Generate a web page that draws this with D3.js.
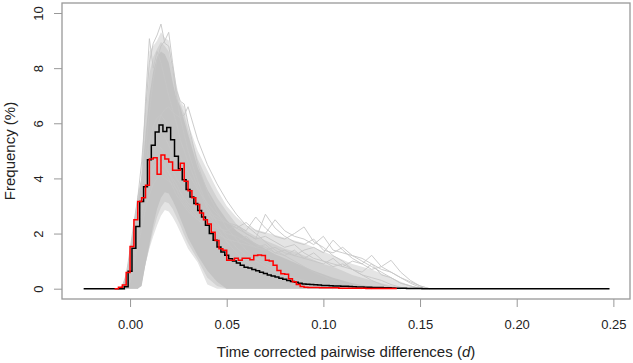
<!DOCTYPE html>
<html lang="en">
<head>
<meta charset="UTF-8" />
<title>Pairwise differences</title>
<style>
  body { margin: 0; background: #fff; }
  svg text { font-family: "Liberation Sans", Arial, sans-serif; fill: #222; }
</style>
</head>
<body>
<svg id="chart" width="633" height="363"></svg>
<script src="https://cdn.jsdelivr.net/npm/d3@7"></script>
<script>
// axis ticks
const xTicks = [0, 0.05, 0.1, 0.15, 0.2, 0.25];
const yTicks = [0, 2, 4, 6, 8, 10];
const xMin = -0.024, xMax = 0.248;

// grid used by the simulated (grey) curves
const gx = [-0.006, -0.004, -0.002, 0, 0.002, 0.004, 0.006, 0.008, 0.010, 0.012, 0.014, 0.016, 0.018, 0.020, 0.022, 0.024, 0.026, 0.028, 0.030,
  0.035, 0.040, 0.045, 0.050, 0.055, 0.060, 0.065, 0.070, 0.075, 0.080, 0.085, 0.090, 0.095, 0.100, 0.105, 0.110, 0.115, 0.120, 0.125, 0.130, 0.135, 0.140, 0.145, 0.150, 0.155];

// envelopes of the simulations: all of them, most of them, the dense bulk
const outerHi = [0, 0.1, 0.5, 1.4, 2.4, 3.3, 4.0, 6.8, 8.6, 8.8, 9.0, 9.3, 9.1, 9.0, 8.2, 7.4, 6.8, 6.6, 6.0,
  5.0, 4.3, 3.6, 3.0, 2.6, 2.3, 2.15, 2.05, 1.95, 1.85, 1.75, 1.65, 1.5, 1.35, 1.2, 1.05, 0.9, 0.8, 0.7, 0.55, 0.4, 0.25, 0.12, 0.04, 0];
const outerLo = [0, 0, 0, 0, 0, 0, 0.35, 0.9, 1.45, 1.9, 2.3, 2.65, 2.85, 2.8, 2.6, 2.35, 2.05, 1.75, 1.45,
  0.95, 0.15, 0, 0, 0, 0, 0, 0, 0, 0, 0, 0, 0, 0, 0, 0, 0, 0, 0, 0, 0, 0, 0, 0, 0];
const midHi = [0, 0.08, 0.45, 1.3, 2.3, 3.2, 3.95, 6.2, 7.8, 8.4, 8.7, 8.95, 8.8, 8.6, 7.9, 7.2, 6.7, 6.35, 5.8,
  4.7, 3.95, 3.3, 2.8, 2.35, 2.1, 1.9, 1.75, 1.6, 1.45, 1.35, 1.2, 1.05, 0.9, 0.8, 0.65, 0.5, 0.4, 0.3, 0.2, 0.12, 0.05, 0.02, 0, 0];
const midLo = [0, 0, 0, 0, 0, 0, 0.2, 0.9, 1.5, 2.1, 2.6, 2.95, 3.15, 3.1, 2.9, 2.6, 2.3, 1.95, 1.65,
  1.05, 0.4, 0.1, 0, 0, 0, 0, 0, 0, 0, 0, 0, 0, 0, 0, 0, 0, 0, 0, 0, 0, 0, 0, 0, 0];
const coreHi = [0, 0.05, 0.4, 1.2, 2.2, 3.1, 3.9, 5.6, 7.0, 7.9, 8.4, 8.6, 8.5, 8.2, 7.5, 6.9, 6.6, 6.1, 5.6,
  4.4, 3.6, 3.0, 2.5, 2.1, 1.85, 1.65, 1.45, 1.25, 1.1, 0.95, 0.8, 0.65, 0.52, 0.4, 0.3, 0.2, 0.13, 0.08, 0.04, 0.02, 0, 0, 0, 0];
const coreLo = [0, 0, 0, 0, 0, 0, 0.1, 0.9, 1.6, 2.3, 2.9, 3.3, 3.5, 3.45, 3.2, 2.9, 2.55, 2.2, 1.85,
  1.2, 0.65, 0.25, 0, 0, 0, 0, 0, 0, 0, 0, 0, 0, 0, 0, 0, 0, 0, 0, 0, 0, 0, 0, 0, 0];

// individual simulated curves that stick out of the bulk
const sim1 = [0, 0, 0.2, 1.0, 2.2, 3.3, 4.6, 6.4, 8.2, 8.9, 9.2, 9.6, 8.9, 8.8, 8.0, 7.0, 6.2, 5.6, 5.0,
  3.9, 3.0, 2.4, 1.9, 1.5, 1.2, 1.0, 0.8, 0.6, 0.5, 0.4, 0.3, 0.2, 0.15, 0.1, 0.05, 0.02, 0];
const sim2 = [0, 0.1, 0.5, 1.4, 2.4, 3.3, 4.0, 6.8, 9.07, 8.0, 8.6, 8.2, 7.6, 7.0, 6.5, 6.0, 5.4, 5.0, 4.6,
  3.7, 2.9, 2.2, 1.7, 1.3, 1.0, 0.8, 0.6, 0.45, 0.3, 0.2, 0.15, 0.1, 0.05, 0];
const sim3 = [0, 0, 0.1, 0.6, 1.4, 2.3, 3.1, 3.9, 4.6, 5.0, 5.2, 5.1, 4.9, 4.6, 4.3, 4.0, 3.8, 3.6, 3.4,
  3.1, 2.8, 2.6, 2.4, 2.3, 2.1, 2.6, 2.2, 1.9, 1.8, 2.0, 2.24, 1.7, 1.5, 1.2, 1.0, 0.7, 0.5, 0.3, 0.15, 0.05, 0];
const sim4 = [0, 0, 0, 0.3, 1.0, 1.9, 2.8, 3.6, 4.2, 4.6, 4.8, 4.7, 4.5, 4.2, 3.9, 3.6, 3.3, 3.1, 2.9,
  2.5, 2.2, 2.0, 1.8, 1.7, 1.6, 1.5, 1.4, 1.5, 1.3, 1.2, 1.4, 1.5, 1.3, 1.76, 1.4, 1.1, 0.9, 1.21, 0.8, 1.03, 0.6, 0.3, 0.1, 0];
const sim5 = [0, 0, 0, 0.2, 0.8, 1.5, 2.2, 2.9, 3.4, 3.8, 4.0, 4.1, 4.0, 3.9, 3.8, 3.6, 3.5, 3.3, 3.1,
  2.9, 2.7, 2.5, 2.4, 2.2, 2.4, 2.1, 2.0, 2.5, 2.1, 1.9, 1.8, 1.6, 1.9, 1.4, 1.3, 1.2, 1.1, 0.9, 0.7, 0.6, 0.4, 0.2, 0.05, 0];
const sim6 = [0, 0, 0.3, 1.1, 2.0, 3.0, 3.9, 5.0, 6.4, 7.6, 8.3, 8.8, 9.0, 9.3, 8.2, 7.2, 6.8, 6.7, 6.0,
  4.5, 3.5, 2.8, 2.2, 1.8, 1.4, 1.1, 0.9, 0.7, 0.5, 0.35, 0.25, 0.15, 0.1, 0.05, 0];
const sim7 = [0, 0, 0.1, 0.6, 1.4, 2.2, 3.0, 3.8, 4.6, 5.3, 5.9, 6.3, 6.5, 6.6, 6.4, 6.3, 6.2, 6.3, 6.6,
  5.4, 4.5, 3.8, 3.2, 2.7, 2.3, 2.0, 1.7, 1.4, 1.2, 1.0, 0.8, 0.6, 0.45, 0.3, 0.2, 0.1, 0.05, 0];
const sim8 = [0, 0, 0, 0.4, 1.1, 1.9, 2.7, 3.4, 4.0, 4.4, 4.6, 4.6, 4.4, 4.2, 4.0, 3.8, 3.5, 3.2, 3.0,
  2.6, 2.3, 2.0, 1.8, 1.7, 1.9, 1.6, 1.5, 1.3, 1.4, 1.2, 1.1, 1.3, 1.0, 0.9, 0.8, 1.0, 0.9, 0.7, 0.8, 0.6, 0.4, 0.25, 0.1, 0];
const sim9 = [0, 0, 0.2, 0.9, 1.8, 2.7, 3.6, 4.5, 5.3, 5.9, 6.2, 6.3, 6.1, 5.8, 5.5, 5.1, 4.8, 4.5, 4.2,
  3.6, 3.1, 2.7, 2.4, 2.2, 2.0, 1.8, 1.9, 1.7, 1.5, 1.6, 1.3, 1.1, 1.0, 0.8, 0.9, 0.7, 0.5, 0.4, 0.3, 0.15, 0.05, 0];
const sim10 = [0, 0, 0, 0.2, 0.9, 1.8, 2.6, 3.3, 3.9, 4.3, 4.5, 4.4, 4.2, 4.0, 3.7, 3.4, 3.2, 3.0, 2.8,
  2.5, 2.3, 2.2, 2.1, 2.3, 2.0, 1.8, 2.7, 2.2, 1.9, 1.7, 1.6, 1.8, 1.4, 1.3, 1.5, 1.2, 1.0, 0.8, 0.6, 0.4, 0.2, 0.1, 0];
const sim11 = [0, 0, 0.1, 0.7, 1.5, 2.4, 3.2, 4.1, 4.9, 5.5, 5.8, 5.7, 5.5, 5.2, 4.9, 4.5, 4.2, 3.9, 3.6,
  3.0, 2.6, 2.3, 2.0, 1.9, 1.7, 1.5, 1.6, 1.3, 1.2, 1.4, 1.1, 1.0, 0.9, 1.1, 0.8, 0.7, 0.6, 0.9, 0.5, 0.4, 0.2, 0.1, 0];
const simLines = [sim1, sim2, sim3, sim4, sim5, sim6, sim7, sim8, sim9, sim10, sim11];

// mean of simulations (black) and observed (red), histogram bins of width 0.002
const binW = 0.002;
const meanStart = -0.005;
const meanVals = [0, 0.07, 0.63, 1.47, 2.26, 3.16, 3.7, 4.68, 5.2, 5.68, 5.94, 5.7, 5.85, 5.4, 4.8, 4.35, 3.95, 3.6, 3.33, 3.09,
  2.84, 2.6, 2.3, 2.0, 1.76, 1.51, 1.33, 1.21, 1.09, 1.0, 0.93, 0.85, 0.78, 0.75, 0.7, 0.65, 0.6, 0.55, 0.5, 0.46,
  0.42, 0.38, 0.34, 0.3, 0.26, 0.23, 0.2, 0.17, 0.16, 0.15, 0.14, 0.13, 0.12, 0.115, 0.11, 0.1, 0.095, 0.09, 0.085, 0.08,
  0.07, 0.065, 0.06, 0.055, 0.05, 0.045, 0.04, 0.04, 0.035, 0.03, 0.025, 0.02, 0.02, 0.015, 0.01, 0.01, 0.005, 0.005, 0];
const obsStart = -0.008;
const obsVals = [0, 0.05, 0.13, 0.59, 1.53, 2.5, 3.16, 3.3, 3.75, 4.7, 4.75, 4.15, 4.85, 4.7, 4.6, 4.3, 4.3, 4.55, 3.9, 3.55,
  3.3, 3.05, 2.75, 2.5, 2.35, 2.05, 1.75, 1.45, 1.39, 1.03, 1.03, 1.1, 1.03, 1.1, 1.1, 1.05, 1.2, 1.22, 1.2, 1.03,
  1.0, 0.85, 0.66, 0.54, 0.52, 0.36, 0.25, 0.15, 0.08, 0.05, 0.04, 0.04, 0.04, 0.03, 0.03, 0.03, 0.03, 0.03, 0.02, 0.02,
  0.02, 0.02, 0.02, 0.02, 0.02, 0.01, 0.01, 0.01, 0.01, 0.01, 0.01, 0.01, 0.01];

const svg = d3.select("#chart");
const x = d3.scaleLinear().domain([-0.0352, 0.2586]).range([62, 630]);
const y = d3.scaleLinear().domain([-0.374, 10.363]).range([299, 3]);

// grey cloud of simulations
const band = (lo, hi) => d3.area()
  .x((d, i) => x(gx[i]))
  .y0((d, i) => y(lo[i]))
  .y1((d, i) => y(hi[i]));
svg.append("path").datum(outerHi).attr("d", band(outerLo, outerHi)).attr("fill", "#e4e4e4");
svg.append("path").datum(midHi).attr("d", band(midLo, midHi)).attr("fill", "#d2d2d2");
svg.append("path").datum(coreHi).attr("d", band(coreLo, coreHi)).attr("fill", "#c3c3c3");

const simLine = d3.line().x((d, i) => x(gx[i])).y(d => y(d));
svg.selectAll(".sim").data(simLines).enter().append("path")
  .attr("class", "sim")
  .attr("d", simLine)
  .attr("fill", "none")
  .attr("stroke", "#c6c6c6")
  .attr("stroke-width", 0.9);

// step lines
function stepPoints(start, vals, from, to) {
  let pts = vals.map((v, i) => [start + i * binW, v]);
  pts.push([start + vals.length * binW, vals[vals.length - 1]]);
  if (from !== undefined) pts.unshift([from, 0]);
  if (to !== undefined) pts.push([to, 0]);
  return pts;
}
const step = d3.line().curve(d3.curveStepAfter).x(d => x(d[0])).y(d => y(d[1]));

svg.append("path").datum(stepPoints(meanStart, meanVals, xMin, xMax))
  .attr("d", step).attr("fill", "none").attr("stroke", "#000").attr("stroke-width", 1.5);
svg.append("path").datum(stepPoints(obsStart, obsVals))
  .attr("d", step).attr("fill", "none").attr("stroke", "#ff0000").attr("stroke-width", 1.5);

// axes
let xAxis = d3.axisBottom(x).tickValues(xTicks).tickFormat(d3.format(".2f")).tickSize(8).tickSizeOuter(0);
let gX = svg.append("g").attr("transform", "translate(0,299)").call(xAxis);
gX.select(".domain").remove();
gX.selectAll("line").attr("stroke", "#999");
gX.selectAll("text").attr("y", 21).attr("font-size", 13);

let yAxis = d3.axisLeft(y).tickValues(yTicks).tickSize(8).tickSizeOuter(0);
let gY = svg.append("g").attr("transform", "translate(62,0)").call(yAxis);
gY.select(".domain").remove();
gY.selectAll("line").attr("stroke", "#999");
gY.selectAll("text")
  .attr("transform", "rotate(-90)")
  .attr("x", 0).attr("y", -19).attr("dy", 0)
  .attr("text-anchor", "middle").attr("font-size", 13);

svg.selectAll("g text").attr("font-family", null);

// box around plot region
svg.append("rect").attr("x", 62).attr("y", 3).attr("width", 568).attr("height", 296)
  .attr("fill", "none").attr("stroke", "#999").attr("stroke-width", 1.3);

// axis titles
const xTitle = svg.append("text").attr("x", 346).attr("y", 357)
  .attr("text-anchor", "middle").attr("font-size", 15);
xTitle.append("tspan").text("Time corrected pairwise differences (");
xTitle.append("tspan").attr("font-style", "italic").text("d");
xTitle.append("tspan").text(")");

svg.append("text").attr("transform", "translate(15,151) rotate(-90)")
  .attr("text-anchor", "middle").attr("font-size", 15).text("Frequency (%)");
</script>
</body>
</html>
